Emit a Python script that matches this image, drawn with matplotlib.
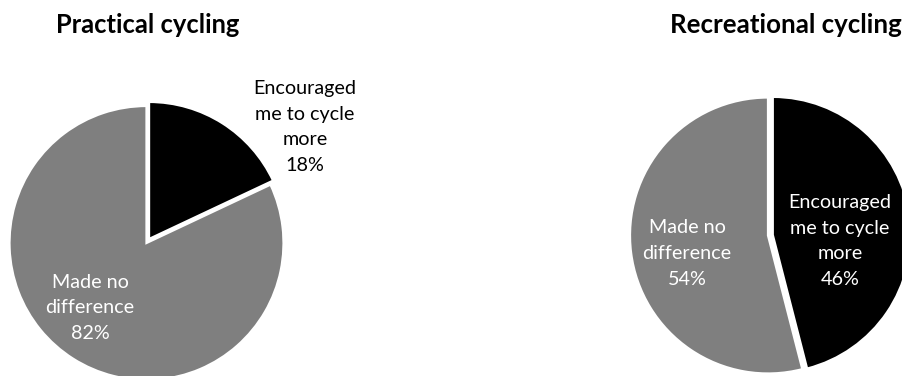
import matplotlib
matplotlib.use("Agg")
import matplotlib.pyplot as plt

plt.rcParams["font.family"] = ["Lato", "DejaVu Sans"]

# survey answers, percent of respondents
answers = ["Encouraged\nme to cycle\nmore", "Made no\ndifference"]
practical = [18, 82]
recreational = [46, 54]
titles = ["Practical cycling", "Recreational cycling"]

colors = ["#000000", "#7f7f7f"]

W, H = 902, 376
fig = plt.figure(figsize=(W / 100, H / 100), dpi=100)


def pie_axes(cx, cy, r, lim=1.8):
    # square axes in pixels, one data unit = pie radius
    side = 2 * lim * r
    ax = fig.add_axes([(cx - lim * r) / W, 1 - (cy + lim * r) / H, side / W, side / H])
    return ax, lim


def draw_pie(ax, lim, values, label_pos, label_colors):
    ax.pie(values, colors=colors, startangle=90, counterclock=False,
           explode=[0.035, 0], radius=1,
           wedgeprops=dict(edgecolor="white", linewidth=1.6))
    for name, v, (x, y), c in zip(answers, values, label_pos, label_colors):
        ax.text(x, y, f"{name}\n{v}%", ha="center", va="center", color=c,
                fontsize=14.2, linespacing=1.62)
    ax.set_xlim(-lim, lim)
    ax.set_ylim(-lim, lim)
    ax.set_aspect("equal")
    ax.axis("off")


ax1, lim1 = pie_axes(146.5, 243, 137)
draw_pie(ax1, lim1, practical, [(1.157, 0.847), (-0.412, -0.474)], ["black", "white"])

ax2, lim2 = pie_axes(768, 235.5, 138)
draw_pie(ax2, lim2, recreational, [(0.522, -0.04), (-0.587, -0.13)], ["white", "white"])

fig.text(148 / W, 1 - 25 / H, titles[0], ha="center", va="center",
         fontsize=18.4, fontweight="bold")
fig.text(786 / W, 1 - 25 / H, titles[1], ha="center", va="center",
         fontsize=18.6, fontweight="bold")

fig.savefig("out.png", dpi=100)
